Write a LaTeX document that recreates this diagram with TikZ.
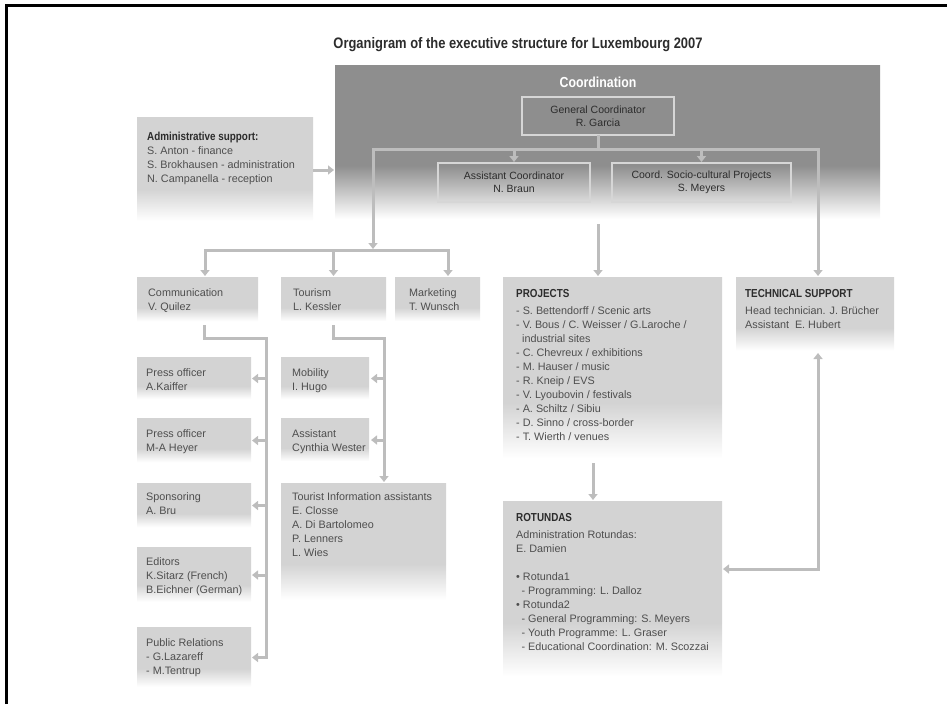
\documentclass[tikz,border=0pt]{standalone}
\usepackage{fontspec}
\setmainfont{Liberation Sans}
\newfontfamily\headfont{Liberation Sans}[FakeStretch=0.85]
\usetikzlibrary{arrows.meta,calc}
\definecolor{boxgray}{HTML}{D3D3D3}
\definecolor{coordgray}{HTML}{8E8E8E}
\definecolor{linegray}{HTML}{BDBDBD}
\definecolor{txtgray}{HTML}{4E4E4E}
\definecolor{headgray}{HTML}{2C2C2C}
\definecolor{cborder}{HTML}{D6D6D6}
\pgfdeclareverticalshading{lightbox}{100bp}{color(0bp)=(white); color(26bp)=(white); color(41bp)=(boxgray); color(100bp)=(boxgray)}
\pgfdeclareverticalshading{darkbox}{100bp}{color(0bp)=(white); color(26bp)=(white); color(43bp)=(coordgray); color(100bp)=(coordgray)}
\newcommand\myhead[1]{{\fontsize{11.6}{14}\headfont\bfseries\color{headgray}#1}}
\tikzset{
  mytip/.tip={Triangle[length=6pt,width=9pt]},
  conn/.style={draw=linegray, line width=3pt},
  arr/.style={-mytip, shorten >=1pt},
  lbox/.style={shade, shading=lightbox, inner sep=0pt, outer sep=0pt, anchor=north west},
  cbox/.style={draw=cborder, line width=1.3pt, inner sep=0pt, outer sep=0pt, anchor=north west,
     align=center, text=headgray, font=\fontsize{10.5}{13}\selectfont},
  txt/.style={inner sep=0pt, anchor=north west, align=left, text=txtgray,
     font=\fontsize{10.8}{14}\selectfont},
  ttl/.style={inner sep=0pt, text=headgray, font=\fontsize{15.2}{18}\headfont\bfseries},
}
\begin{document}
\begin{tikzpicture}[x=1pt,y=-1pt]
\useasboundingbox (0,0) rectangle (947,704);
% frame
\draw[line width=3pt] (6,704) -- (6,5) -- (947,5);
% title
\node[ttl] (title) at (518,45) {Organigram of the executive structure for Luxembourg 2007};
% coordination block
\node[shade, shading=darkbox, inner sep=0pt, outer sep=0pt, anchor=north west,
      minimum width=545pt, minimum height=157pt] (coord) at (335,65) {};
\node[ttl, text=white, font=\fontsize{14.5}{17}\headfont\bfseries] (coordlbl) at (598,82) {Coordination};
\node[cbox, minimum width=152pt, minimum height=38pt] (gc) at (522,97) {General Coordinator\\R. Garcia};
\node[cbox, minimum width=152pt, minimum height=39pt] (ac) at (438,163) {Assistant Coordinator\\N. Braun};
\node[cbox, minimum width=179pt, minimum height=39pt] (sc) at (612,163) {Coord. Socio-cultural Projects\\S. Meyers};
% boxes
\node[lbox, minimum width=176pt, minimum height=106pt] (admin) at (137,117) {};
\node[lbox, minimum width=121pt, minimum height=45pt] (comm) at (137,277) {};
\node[lbox, minimum width=105pt, minimum height=45pt] (tour) at (281,277) {};
\node[lbox, minimum width=85pt, minimum height=45pt] (mkt) at (395,277) {};
\node[lbox, minimum width=114pt, minimum height=43pt] (po1) at (137,357) {};
\node[lbox, minimum width=114pt, minimum height=45pt] (po2) at (137,418) {};
\node[lbox, minimum width=114pt, minimum height=45pt] (spon) at (137,483) {};
\node[lbox, minimum width=114pt, minimum height=56pt] (edit) at (137,547) {};
\node[lbox, minimum width=114pt, minimum height=61pt] (pr) at (137,627) {};
\node[lbox, minimum width=88pt, minimum height=43pt] (mob) at (281,357) {};
\node[lbox, minimum width=88pt, minimum height=44pt] (asst) at (281,418) {};
\node[lbox, minimum width=165pt, minimum height=119pt] (ti) at (281,483) {};
\node[lbox, minimum width=219pt, minimum height=185pt] (proj) at (503,277) {};
\node[lbox, minimum width=219pt, minimum height=179pt] (rot) at (503,501) {};
\node[lbox, minimum width=158pt, minimum height=75pt] (ts) at (736,277) {};
% texts
\node[txt] (admintxt) at ($(admin.north west)+(10,15)$) {\myhead{Administrative support:}\\S. Anton - finance\\S. Brokhausen - administration\\N. Campanella - reception};
\node[txt] (commtxt) at ($(comm.north west)+(11,11)$) {Communication\\V. Quilez};
\node[txt] (tourtxt) at ($(tour.north west)+(12,11)$) {Tourism\\L. Kessler};
\node[txt] (mkttxt) at ($(mkt.north west)+(14,11)$) {Marketing\\T. Wunsch};
\node[txt] (po1txt) at ($(po1.north west)+(9,11)$) {Press officer\\A.Kaiffer};
\node[txt] (po2txt) at ($(po2.north west)+(9,11)$) {Press officer\\M-A Heyer};
\node[txt] (spontxt) at ($(spon.north west)+(9,9)$) {Sponsoring\\A. Bru};
\node[txt] (edittxt) at ($(edit.north west)+(9,10)$) {Editors\\K.Sitarz (French)\\B.Eichner (German)};
\node[txt] (prtxt) at ($(pr.north west)+(9,11)$) {Public Relations\\- G.Lazareff\\- M.Tentrup};
\node[txt] (mobtxt) at ($(mob.north west)+(11,11)$) {Mobility\\I. Hugo};
\node[txt] (assttxt) at ($(asst.north west)+(11,11)$) {Assistant\\Cynthia Wester};
\node[txt] (titxt) at ($(ti.north west)+(11,9)$) {Tourist Information assistants\\E. Closse\\A. Di Bartolomeo\\P. Lenners\\L. Wies};
\node[txt] (projtxt) at ($(proj.north west)+(13,12)$) {\myhead{PROJECTS}\\[3pt]
- S. Bettendorff / Scenic arts\\
- V. Bous / C. Weisser / G.Laroche /\\
\hspace*{0.55em}industrial sites\\
- C. Chevreux / exhibitions\\
- M. Hauser / music\\
- R. Kneip / EVS\\
- V. Lyoubovin / festivals\\
- A. Schiltz / Sibiu\\
- D. Sinno / cross-border\\
- T. Wierth / venues};
\node[txt] (rottxt) at ($(rot.north west)+(13,12)$) {\myhead{ROTUNDAS}\\[3pt]
Administration Rotundas:\\
E. Damien\\[14pt]
\textbullet\ Rotunda1\\
\hspace*{0.5em}- Programming: L. Dalloz\\
\textbullet\ Rotunda2\\
\hspace*{0.5em}- General Programming: S. Meyers\\
\hspace*{0.5em}- Youth Programme: L. Graser\\
\hspace*{0.5em}- Educational Coordination: M. Scozzai};
\node[txt] (tstxt) at ($(ts.north west)+(9,12)$) {\myhead{TECHNICAL SUPPORT}\\[3pt]
Head technician. J. Br\"ucher\\
Assistant\ \ E. Hubert};
% coordinates for connector bends
\coordinate (jL) at (373,149);
\coordinate (jR) at (818,149);
\coordinate (bL) at (205,250);
\coordinate (bR) at (448,250);
\coordinate (cA) at (204,338);
\coordinate (cB) at (266,338);
\coordinate (tA) at (333,338);
\coordinate (tB) at (384,338);
\coordinate (pA) at (593,462);
\coordinate (tC) at (818,569);
% connectors in coordination block
\draw[conn] (gc.south) -- (gc.south |- jL);
\draw[conn, mytip-mytip, shorten >=1pt, shorten <=1pt, line join=miter] (jL |- bL) -- (jL) -- (jR) -- (jR |- ts.north);
\draw[conn, arr] (ac.north |- jL) -- (ac.north);
\draw[conn, arr] (sc.north |- jL) -- (sc.north);
\draw[conn, arr] (admin.east) -- (admin.east -| coord.west);
\draw[conn, arr, shorten <=2pt] (gc.south |- coord.south) -- (gc.south |- proj.north);
% communication / tourism / marketing
\draw[conn, mytip-mytip, shorten >=1pt, shorten <=1pt, line join=miter] (bL |- comm.north) -- (bL) -- (bR) -- (bR |- mkt.north);
\draw[conn, arr] (tour.north |- bL) -- (tour.north);
\draw[conn, arr, shorten <=3pt, line join=miter] (comm.south -| cA) -- (cA) -- (cB) -- (cB |- pr.east) -- (pr.east);
\draw[conn, arr] (cB |- po1.east) -- (po1.east);
\draw[conn, arr] (cB |- po2.east) -- (po2.east);
\draw[conn, arr] (cB |- spon.east) -- (spon.east);
\draw[conn, arr] (cB |- edit.east) -- (edit.east);
\draw[conn, arr, shorten <=3pt, line join=miter] (tour.south -| tA) -- (tA) -- (tB) -- (tB |- ti.north);
\draw[conn, arr, shorten >=2pt] (tB |- mob.east) -- (mob.east);
\draw[conn, arr, shorten >=2pt] (tB |- asst.east) -- (asst.east);
% projects / rotundas / technical support
\draw[conn, arr, shorten <=1pt] (pA) -- (pA |- rot.north);
\draw[conn, mytip-mytip, shorten >=1pt, shorten <=1pt, line join=miter] (tC -| rot.east) -- (tC) -- (tC |- ts.south);
\end{tikzpicture}
\end{document}
